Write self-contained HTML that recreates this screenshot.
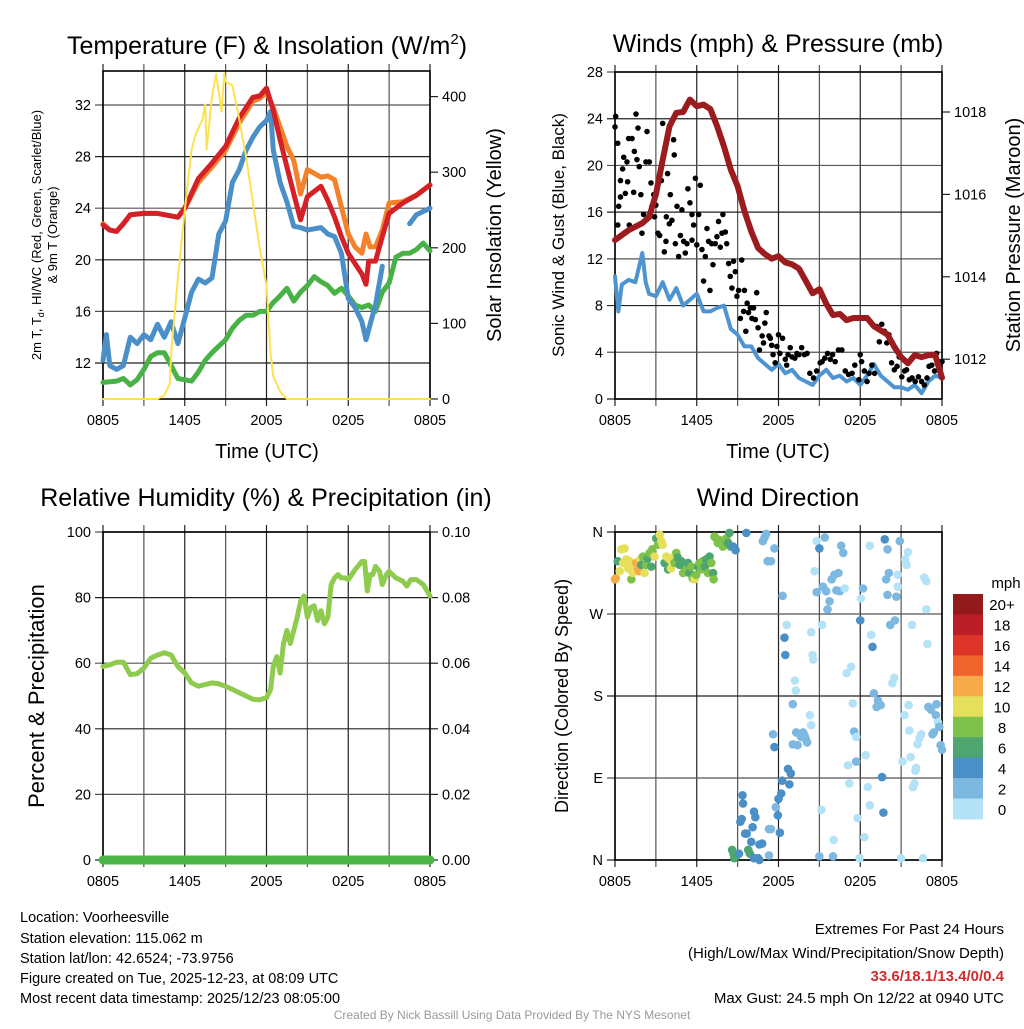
<!DOCTYPE html>
<html><head><meta charset="utf-8">
<style>
html,body{margin:0;padding:0;background:#fff;}
body{width:1024px;height:1024px;overflow:hidden;font-family:"Liberation Sans",sans-serif;}
svg text{font-family:"Liberation Sans",sans-serif;}
</style></head>
<body>
<svg id="chart" width="1024" height="1024" viewBox="0 0 1024 1024" xmlns="http://www.w3.org/2000/svg">
<g id="layer"></g>
<text x="267" y="54" font-size="25" text-anchor="middle">Temperature (F) &amp; Insolation (W/m<tspan font-size="15" dy="-10">2</tspan><tspan dy="10">)</tspan></text>
<text x="778" y="52" font-size="25" text-anchor="middle">Winds (mph) &amp; Pressure (mb)</text>
<text x="266" y="506" font-size="25" text-anchor="middle">Relative Humidity (%) &amp; Precipitation (in)</text>
<text x="778" y="506" font-size="25" text-anchor="middle">Wind Direction</text>

<text x="267" y="458" font-size="20" text-anchor="middle">Time (UTC)</text>
<text x="778" y="458" font-size="20" text-anchor="middle">Time (UTC)</text>

<text transform="translate(41,235) rotate(-90)" font-size="13" text-anchor="middle">2m T, T<tspan font-size="9" dy="3">d</tspan><tspan dy="-3">, HI/WC (Red, Green, Scarlet/Blue)</tspan></text>
<text transform="translate(57,235) rotate(-90)" font-size="13" text-anchor="middle">&amp; 9m T (Orange)</text>
<text transform="translate(501,235) rotate(-90)" font-size="20" text-anchor="middle">Solar Insolation (Yellow)</text>
<text transform="translate(564,235) rotate(-90)" font-size="17" text-anchor="middle">Sonic Wind &amp; Gust (Blue, Black)</text>
<text transform="translate(1020,235) rotate(-90)" font-size="20" text-anchor="middle">Station Pressure (Maroon)</text>
<text transform="translate(44,696) rotate(-90)" font-size="22" text-anchor="middle">Percent &amp; Precipitation</text>
<text transform="translate(568,696) rotate(-90)" font-size="18" text-anchor="middle">Direction (Colored By Speed)</text>

<g font-size="14.5">
<text x="20" y="922">Location: Voorheesville</text>
<text x="20" y="943">Station elevation: 115.062 m</text>
<text x="20" y="963">Station lat/lon: 42.6524; -73.9756</text>
<text x="20" y="983">Figure created on Tue, 2025-12-23, at 08:09 UTC</text>
<text x="20" y="1003">Most recent data timestamp: 2025/12/23 08:05:00</text>
</g>
<g font-size="15" text-anchor="end">
<text x="1004" y="934">Extremes For Past 24 Hours</text>
<text x="1004" y="958">(High/Low/Max Wind/Precipitation/Snow Depth)</text>
<text x="1004" y="981" fill="#d42a2a" font-weight="bold">33.6/18.1/13.4/0/0.4</text>
<text x="1004" y="1003">Max Gust: 24.5 mph On 12/22 at 0940 UTC</text>
</g>
<text x="512" y="1019" font-size="12" fill="#999" text-anchor="middle">Created By Nick Bassill Using Data Provided By The NYS Mesonet</text>
</svg>
<script>
// ---------- data ----------
const xTickLabels = ["0805","1405","2005","0205","0805"];
const tempTicks = [12,16,20,24,28,32];
const solarTicks = [0,100,200,300,400];
const windTicks = [0,4,8,12,16,20,24,28];
const pressTicks = [1012,1014,1016,1018];
const rhTicks = [0,20,40,60,80,100];
const precipTicks = ["0.00","0.02","0.04","0.06","0.08","0.10"];
const dirTickLabels = ["N","E","S","W","N"];
const speedLabels = ["20+","18","16","14","12","10","8","6","4","2","0"];
const speedColors = ["#921a1d","#bb1e26","#dd3429","#ef632c","#f6aa48","#e5e05b","#7ec24b","#4ea56f","#4a8fc6","#7db8e1","#b4e2f7"];

const redT = [0,0.5,1,1.5,2,3,4,5,5.5,6,7,8,9,10,11,11.5,12,12.5,13,13.5,14,14.5,15,16,16.5,17,17.5,18,18.5,19,19.3,19.5,20,20.5,21,22,23,24];
const redV = [22.7,22.3,22.2,22.8,23.5,23.6,23.6,23.4,23.3,24.0,26.3,27.5,28.8,31.0,32.6,32.7,33.3,31.6,29.3,27.2,25.1,23.1,24.9,25.7,24.6,23.3,21.8,20.5,19.7,18.9,18.1,19.9,19.9,21.8,23.6,24.4,25.0,25.8];
const orangeT = [0,0.5,1,1.5,2,3,4,5,5.5,6,7,8,9,10,11,11.5,12,12.5,13,13.5,14,14.5,15,16,16.5,17,17.5,18,18.5,19,19.3,19.6,20,20.5,21,22,23,24];
const orangeV = [22.8,22.3,22.2,22.8,23.5,23.6,23.6,23.4,23.3,24.0,26.0,27.2,28.5,30.6,32.3,32.5,33.0,31.8,30.3,28.8,27.7,25.1,27.0,26.4,26.5,26.2,24.1,22.0,21.0,20.5,22.0,21.0,21.0,22.3,24.4,24.5,25.0,25.8];
const blueT = [0,0.25,0.5,1,1.5,2,2.5,3,3.5,4,4.5,5,5.5,6,6.5,7,7.5,8,8.5,9,9.5,10,10.5,11,11.5,12,12.3,12.5,13,13.5,14,14.5,15,16,16.5,17,17.5,18,18.5,19,19.3,19.6,20,20.5,null,22.5,23,24];
const blueV = [12.2,14.2,11.8,11.5,11.8,14.0,13.5,14.2,13.8,15.0,14.0,15.2,13.5,15.5,17.5,18.5,18.2,18.6,22.0,23.0,26.0,27.0,28.5,29.5,30.3,30.8,31.5,28.5,26.0,24.5,22.6,22.5,22.3,22.5,22.0,21.8,20.5,17.0,16.3,15.2,13.8,15.0,16.5,19.5,null,22.8,23.5,24.0];
const greenT = [0,1,1.5,2,2.5,3,3.5,4,4.5,5,5.5,6,6.5,7,7.5,8,8.5,9,9.5,10,10.5,11,11.5,12,12.5,13,13.5,14,14.5,15,15.5,16,16.5,17,17.5,18,18.5,19,19.5,20,20.5,21,21.5,22,22.5,23,23.5,24];
const greenV = [10.5,10.6,10.8,10.3,10.7,11.5,12.5,12.8,12.8,11.8,10.8,10.7,10.6,11.3,12.2,12.8,13.3,13.8,14.7,15.3,15.7,15.7,16.0,16.0,16.7,17.2,17.8,16.8,17.5,18.0,18.7,18.3,18.0,17.4,17.8,17.2,16.5,16.3,16.5,16.0,17.5,18.2,20.2,20.5,20.5,20.8,21.3,20.7];
const solarT = [0,4,4.5,4.9,5,5.5,6,6.5,6.8,7.3,7.5,7.6,8,8.3,8.7,8.9,9,9.5,10,10.5,11,11.5,12,12.3,12.5,13,13.5,24];
const solarV = [0,0,5,20,60,160,250,330,350,370,390,330,400,430,380,430,420,415,370,320,260,200,150,60,30,10,0,0];

const windT = [0,0.25,0.5,1,1.5,2,2.25,2.5,3,3.5,4,4.5,5,5.5,6,6.5,7,7.5,8,8.5,9,9.5,10,10.5,11,11.5,12,12.5,13,13.5,14,14.5,15,15.5,16,16.5,17,17.5,18,18.5,19,19.5,20,20.5,21,21.5,22,22.5,23,23.5,24];
const windV = [10.5,7.5,9.8,10.2,10.0,12.5,10.0,9.0,8.8,10.0,8.5,9.5,8.0,8.5,9.0,7.5,7.5,7.8,8.0,6.0,5.5,4.5,4.5,3.5,3.0,2.5,3.0,2.2,2.5,1.8,1.5,1.2,2.0,2.5,1.8,2.0,1.5,1.8,1.2,2.0,3.0,2.0,1.5,1.0,1.0,0.8,1.2,0.5,1.5,2.0,1.8];
const pressT = [0,1,2,2.5,3,3.5,4,4.5,5,5.5,6,6.5,7,7.5,8,8.5,9,9.5,10,10.5,11,11.5,12,12.5,13,13.5,14,14.5,15,15.5,16,16.5,17,17.5,18,18.5,19,19.5,20,20.5,21,21.5,22,22.5,23,23.5,24];
const pressV = [1014.89,1015.13,1015.3,1015.45,1016.0,1016.84,1017.65,1017.98,1018.0,1018.3,1018.14,1018.18,1018.07,1017.65,1017.16,1016.6,1016.2,1015.6,1015.1,1014.7,1014.55,1014.44,1014.5,1014.35,1014.3,1014.2,1013.9,1013.6,1013.7,1013.35,1013.07,1013.1,1012.95,1013.0,1013.0,1013.0,1012.8,1012.7,1012.6,1012.3,1012.05,1011.9,1012.1,1012.05,1012.1,1012.1,1011.55];
const gustT = [0,0.05,0.2,0.27,0.2,0.4,0.4,0.56,0.64,0.76,0.88,0.93,1.0,1.05,1.25,1.37,1.42,1.54,1.61,1.69,1.78,1.9,1.98,2.1,2.27,2.35,2.52,2.64,2.71,2.84,2.9,3.0,3.15,3.28,3.4,3.5,3.62,3.74,3.77,3.86,3.99,4.06,4.18,4.3,4.35,4.43,4.55,4.67,4.8,4.91,5.04,5.16,5.28,5.35,5.5,5.65,5.65,5.77,5.9,6.0,6.14,6.26,6.38,6.5,6.63,6.75,6.87,6.97,7.1,7.19,7.36,7.48,7.6,7.73,7.85,7.92,8.1,8.2,8.34,8.46,8.58,8.7,8.83,8.95,9.07,9.2,9.3,9.44,9.5,9.6,9.7,9.8,9.93,10.05,10.17,10.3,10.4,10.5,10.6,10.8,10.9,11.0,11.1,11.3,11.4,11.5,11.6,11.76,11.88,12.0,12.1,12.3,12.5,12.6,12.7,12.86,13.0,13.2,13.35,13.5,13.7,13.9,14.1,14.3,14.57,14.8,15.06,15.2,15.4,15.6,15.8,15.97,16.16,16.4,16.65,16.9,17.14,17.4,17.6,17.9,18.0,18.1,18.3,18.5,18.65,18.85,19.05,19.2,19.4,19.58,19.78,19.95,20.1,20.3,20.5,20.7,20.86,21.05,21.25,21.4,21.6,21.8,22.03,22.27,22.5,22.7,22.9,23.05,23.25,23.45,23.6,23.8,24];
const gustV = [23.3,24.2,21.9,16.5,14.9,18.7,17.3,19.7,20.7,17.6,20.3,18.6,22.3,14.9,22.3,17.7,21.2,24.4,20.5,23.2,19.9,17.5,14.2,15.8,20.3,22.9,20.3,18.5,16.5,17.5,15.6,16.6,14.2,14.0,18.7,23.6,12.6,13.5,15.6,19.3,15.0,17.5,15.3,22.2,20.9,13.3,16.5,12.2,14.0,16.2,13.5,12.5,13.3,18.0,16.8,15.8,13.6,14.9,18.9,13.2,15.8,18.3,12.8,10.1,12.2,14.6,13.5,9.3,13.3,11.5,13.3,13.9,15.2,13.0,14.2,15.8,14.3,13.3,11.6,10.5,9.5,11.8,10.9,8.8,9.3,6.9,11.9,7.5,9.3,5.8,8.2,7.4,7.8,6.9,7.8,6.8,9.1,6.1,4.2,5.4,4.8,6.5,7.4,5.4,5.2,4.6,3.8,3.1,4.5,5.5,3.9,5.2,3.4,2.9,3.8,4.4,3.6,3.5,3.9,3.8,4.4,3.8,3.9,2.2,1.8,2.4,3.1,3.2,3.5,3.9,3.4,3.8,3.2,4.2,4.2,2.4,2.1,2.2,2.9,1.65,3.8,3.2,2.4,1.5,2.2,2.9,2.2,6.2,4.9,6.4,5.8,4.8,5.5,3.1,2.5,2.8,3.6,1.9,2.4,2.5,1.65,1.8,1.5,1.9,1.5,1.2,1.8,2.8,2.9,2.4,3.9,3.2,3.2];

const rhT = [0,0.5,1,1.5,2,2.5,3,3.5,4,4.5,5,5.5,6,6.5,7,7.5,8,8.5,9,9.5,10,10.5,11,11.5,12,12.3,12.5,12.75,13,13.25,13.5,13.75,14,14.25,14.5,14.75,15,15.25,15.5,15.75,16,16.25,16.5,16.75,17,17.25,17.5,17.75,18,18.5,19,19.2,19.4,19.6,19.8,20,20.3,20.5,20.8,21,21.5,22,22.3,22.6,23,23.5,24];
const rhV = [59,59.5,60.3,60.3,56.5,56.8,58.5,61.5,62.5,63.2,62.5,59,57,54,53,53.5,54,53.7,53,52,51,50,49,48.8,49.5,52,59,62,57,66,70,66,70,74,79,80.5,74,77,77.5,73,76,72,74,84,86,87,86,86,85.5,88.5,91,91,82,87,87,89.5,88,84,87,88,86,85,83.5,85.5,85.5,84,80.5];
const precipT = [0,24];
const precipV = [0,0];

const dirT = [0,0.05,0.2,0.34,0.46,0.6,0.7,0.83,0.95,1.07,1.2,1.3,1.45,1.56,1.7,1.76,1.86,1.93,2.05,2.17,2.3,2.4,2.54,2.67,2.74,2.9,3.03,3.15,3.28,3.4,3.5,3.64,3.77,3.9,4.0,4.1,4.25,4.37,4.5,4.6,4.74,4.86,5.0,5.1,5.23,5.35,5.47,5.6,5.7,5.84,5.96,6.1,6.2,6.33,6.45,6.6,6.7,6.82,6.94,7.07,7.2,7.24,7.3,7.43,7.55,7.68,7.8,7.92,8.05,8.17,8.3,8.4,8.5,8.66,8.85,9.64,8.6,8.7,8.9,8.75,9.1,9.2,9.3,9.36,9.4,9.55,9.66,9.78,9.9,10,10.1,10.2,10.3,10.2,10.5,10.6,10.6,10.8,11.3,11.3,11.45,11.6,11.7,11.8,11.95,12.1,12.0,12.2,12.27,12.7,12.9,12.8,13.05,13.3,13.54,13.8,14.0,14.3,14.4,13.4,13.67,13.9,14.1,10.85,10.98,11.1,11.2,11.45,11.7,12.3,12.44,12.5,12.6,13.05,13.2,13.27,14.4,14.5,14.55,14.65,14.8,15.0,15.15,15.2,15.0,14.8,15.26,15.4,15.5,15.6,15.75,15.9,16.0,16.05,16.1,16.25,16.4,16.5,16.6,16.75,16.86,17.0,17.1,17.2,17.33,17.45,17.55,17.7,17.7,17.8,17.95,18.0,18.05,18.2,18.3,18.4,18.55,18.7,18.7,18.8,18.9,19.0,19.2,19.3,19.5,19.6,19.7,19.8,19.9,20.0,20.0,20.1,20.2,20.35,20.5,20.55,20.65,20.75,20.75,20.9,21,21.1,21.25,21.3,21.4,21.5,21.55,21.6,21.7,21.8,21.87,21.98,22.05,22.1,22.2,22.35,22.47,22.6,22.7,22.85,22.85,22.93,23.0,23.2,23.3,23.4,23.55,23.6,23.7,23.8,23.9,24];
const dirV = [308,309,328,317,341,326,342,330,320,328,308,315,322,326,319,317,330,324,333,315,324,331,337,322,341,333,353,346,357,350,346,326,333,319,330,320,332,326,337,332,324,328,315,322,319,326,315,322,309,308,313,322,326,319,328,322,330,315,333,326,315,308,355,353,348,351,350,344,348,353,348,359,344,344,340,359,11,7,4,2,7,42,45,71,62,29,29,11,7,20,36,53,47,2,2,0,17,18,5,34,34,138,124,58,49,30,67,73,87,100,95,83,127,140,138,140,133,159,148,126,135,137,129,350,354,358,328,328,342,290,244,225,258,171,197,186,250,225,220,317,350,342,55,258,4,294,300,354,295,275,284,308,4,22,313,296,315,295,345,337,298,205,104,84,212,172,141,135,108,46,2,263,287,298,25,115,80,345,60,247,234,183,168,175,170,91,52,352,308,341,291,315,258,194,200,263,289,313,300,350,2,108,159,330,324,338,170,142,113,258,80,84,98,101,127,134,138,2,310,306,275,237,168,165,138,140,159,171,151,146,126,121];
const dirSpd = [12,12,6,10,10,10,10,10,10,10,8,10,10,12,12,13,10,6,8,10,8,6,8,6,8,10,6,8,10,10,10,6,10,6,10,10,10,8,8,6,6,6,8,6,8,6,6,8,8,10,8,6,8,8,8,6,6,8,6,8,6,8,8,8,8,8,8,8,8,8,6,6,6,4,4,4,
6,6,6,6,4,4,4,4,4,4,4,6,6,4,4,4,4,4,4,4,4,4,2,2,2,2,4,2,4,4,4,4,4,4,4,4,2,2,2,2,2,0,0,2,2,2,2,
2,2,2,2,2,2,2,4,4,0,2,0,0,0,0,0,0,0,4,0,0,2,2,2,2,2,2,2,2,2,0,2,2,2,2,2,2,0,0,0,0,0,0,2,0,2,0,0,4,0,2,0,0,0,0,0,0,4,2,2,2,2,4,4,4,2,2,2,2,2,0,0,2,2,0,0,2,0,0,0,0,0,0,0,0,0,0,0,0,0,0,0,0,0,0,0,0,0,0,2,2,2,2,2,2,0,2,2,2];

// ---------- drawing ----------
const NS = "http://www.w3.org/2000/svg";
const layer = document.getElementById('layer');
function mk(tag, attrs, parent){
  const el = document.createElementNS(NS, tag);
  for (const k in attrs) el.setAttribute(k, attrs[k]);
  (parent||layer).appendChild(el);
  return el;
}
function txt(x,y,s,size,anchor,parent){
  const t = mk('text',{x:x,y:y,'font-size':size,'text-anchor':anchor||'middle'},parent);
  t.textContent = s;
  return t;
}
function pathD(ts, vs, sx, sy){
  let d = "", pen = false;
  for (let i=0;i<ts.length;i++){
    if (ts[i]===null || vs[i]===null){ pen=false; continue; }
    d += (pen?"L":"M") + sx(ts[i]).toFixed(1) + "," + sy(vs[i]).toFixed(1);
    pen = true;
  }
  return d;
}
function xScaleFor(x0,x1){ return t => x0 + t*(x1-x0)/24; }

function frame(name, x0,y0,x1,y1, leftTicks, leftFn, leftLabels, rightTicks, rightFn, rightLabels, xLabels){
  const g = mk('g',{});
  
  
  for (let k=0;k<=8;k++){
    const x = x0 + k*(x1-x0)/8;
    const ln = mk('line',{x1:x,y1:y0-7,x2:x,y2:y1+7,stroke:(k%2? '#555':'#222'),'stroke-width':1.2},g);
    
    
  }
  leftTicks.forEach((v,i)=>{
    const y = leftFn(v);
    const ln = mk('line',{x1:x0-8,y1:y,x2:x1,y2:y,stroke:(i%2?'#555':'#222'),'stroke-width':1.2},g);
    
    
    const t = txt(x0-12, y+5, leftLabels[i], 14.5, 'end', g);
    
    
  });
  rightTicks.forEach((v,i)=>{
    const y = rightFn(v);
    mk('line',{x1:x1,y1:y,x2:x1+8,y2:y,stroke:'#222','stroke-width':1.2},g);
    const t = txt(x1+12, y+5, rightLabels[i], 14.5, 'start', g);
    
    
  });
  xLabels.forEach((s,i)=>{
    const x = x0 + i*(x1-x0)/4;
    const t = txt(x, y1+26, s, 14.5, 'middle', g);
    
    
  });
  const r = mk('rect',{x:x0,y:y0,width:x1-x0,height:y1-y0,fill:'none',stroke:'#000','stroke-width':1.6},g);
  
  
  return g;
}
function series(name, ts, vs, sx, sy, color, w){
  const p = mk('path',{d:pathD(ts,vs,sx,sy),fill:'none',stroke:color,'stroke-width':w,'stroke-linejoin':'round','stroke-linecap':'round'});
  
  
  return p;
}

// Panel 1: temperature
const p1x = xScaleFor(103,430);
const tempY = v => 105 + (32 - v)*12.9;
const solarY = v => 399 - v*0.756;
frame('temp', 103,71,430,399, tempTicks, tempY, tempTicks.map(String), solarTicks, solarY, solarTicks.map(String), xTickLabels);
series('dewpoint-line-green', greenT, greenV, p1x, tempY, '#48b246', 5);
series('temp-9m-line-orange', orangeT, orangeV, p1x, tempY, '#f5812a', 5);
series('windchill-line-blue', blueT, blueV, p1x, tempY, '#4b8fc8', 5);
series('temp-2m-line-red', redT, redV, p1x, tempY, '#d42127', 5);
series('solar-insolation-line', solarT, solarV, p1x, solarY, '#fde24f', 2);

// Panel 2: winds
const p2x = xScaleFor(615,942);
const windY = v => 399 - v*327/28;
const pressY = v => 112 + (1018 - v)*41.2;
frame('wind', 615,72,942,399, windTicks, windY, windTicks.map(String), pressTicks, pressY, pressTicks.map(String), xTickLabels);
series('sonic-wind-line', windT, windV, p2x, windY, '#4d94d0', 4);
gustT.forEach((t,i)=>{
  const c = mk('circle',{cx:p2x(t),cy:windY(gustV[i]),r:2.8,fill:'#000'});
  
  
});
series('pressure-line', pressT, pressV, p2x, pressY, '#9b1b1e', 6);

// Panel 3: RH
const p3x = xScaleFor(103,430);
const rhY = v => 860 - v*3.28;
const precipY = v => 860 - v*3280;
frame('rh', 103,532,430,860, rhTicks, rhY, rhTicks.map(String), precipTicks.map(Number), precipY, precipTicks, xTickLabels);
series('rh-line', rhT, rhV, p3x, rhY, '#8fcb4f', 5);
series('precip-line', precipT, precipV, p3x, precipY, '#4cb748', 9);

// Panel 4: direction
const p4x = xScaleFor(615,942);
const dirY = v => 860 - v*328/360;
frame('direction', 615,532,942,860, [0,90,180,270,360], dirY, dirTickLabels, [], dirY, [], xTickLabels);
dirT.forEach((t,i)=>{
  const idx = Math.min(10, Math.floor(dirSpd[i]/2));
  const c = mk('circle',{cx:p4x(t),cy:dirY(dirV[i]),r:4.3,fill:speedColors[10-idx]});
  
  
});

// colorbar
const cb = mk('g',{});


const cbTop = 594, cbH = 225/11;
speedLabels.forEach((s,i)=>{
  const r = mk('rect',{x:953,y:cbTop+i*cbH,width:30,height:cbH+0.5,fill:speedColors[i]},cb);
  
  
  const t = txt(1002, cbTop+i*cbH+cbH/2+6, s, 15, 'middle', cb);
  
  
});
const cbt = txt(1006, 588, 'mph', 15, 'middle', cb);


</script>
</body></html>
